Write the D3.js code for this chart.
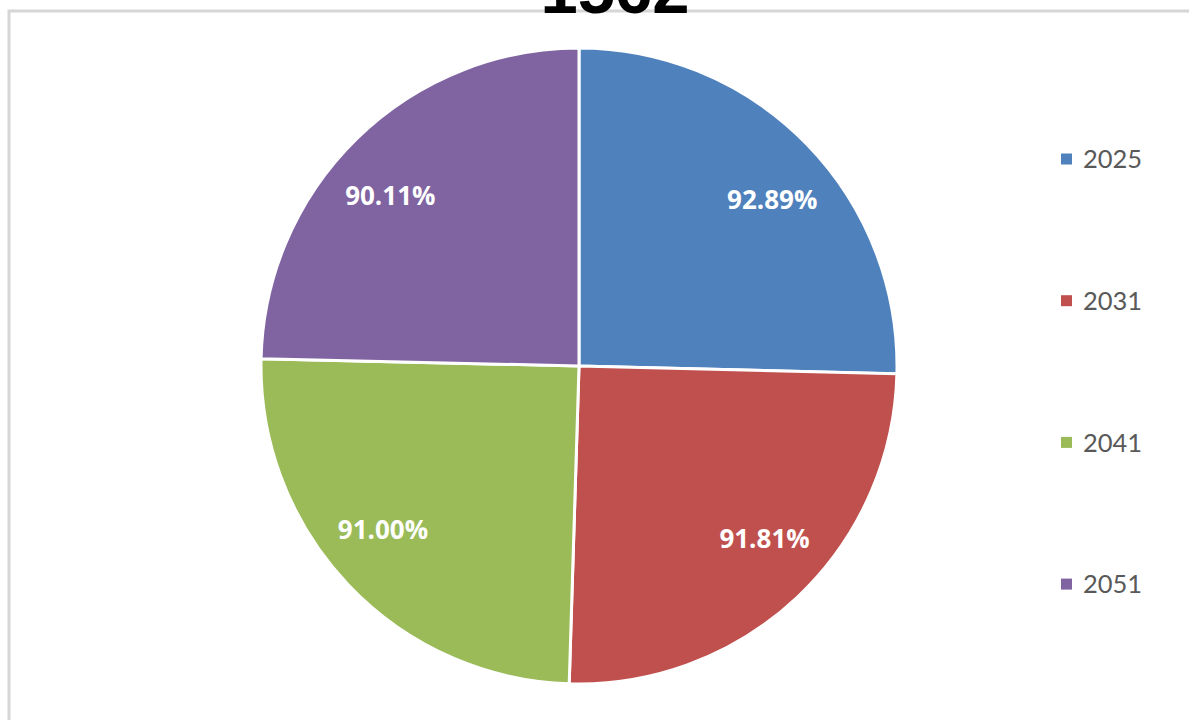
<!DOCTYPE html>
<html>
<head>
<meta charset="utf-8">
<script src="https://cdn.jsdelivr.net/npm/d3@7"></script>
<style>
  body { margin: 0; background: #fff; }
</style>
</head>
<body>
<svg id="chart" width="1189" height="720"></svg>
<script>
const title = '1562';
const years = ['2025', '2031', '2041', '2051'];
const shares = [92.89, 91.81, 91.00, 90.11];
const colours = ['#4f81bd', '#c0504d', '#9bbb59', '#8064a2'];

const svg = d3.select('#chart'),
    width = +svg.attr('width'),
    height = +svg.attr('height'),
    cx = 579, cy = 366, radius = 318;

// chart frame, only top and left edges show
svg.append('path')
    .attr('d', `M9,${height} V11 H${width}`)
    .attr('fill', 'none')
    .attr('stroke', '#d6d6d6')
    .attr('stroke-width', 3);

// title sits mostly above the top edge of the page
svg.append('text')
    .attr('x', 615)
    .attr('y', 13)
    .attr('text-anchor', 'middle')
    .attr('font-family', 'Liberation Sans, Arial, sans-serif')
    .attr('font-weight', 'bold')
    .attr('font-size', 67)
    .attr('fill', '#000')
    .text(title);

const data = years.map((y, i) => ({ year: y, value: shares[i] }));
const colour = d3.scaleOrdinal().domain(years).range(colours);

const pie = d3.pie().sort(null).value(d => d.value);
const arc = d3.arc().innerRadius(0).outerRadius(radius);

const g = svg.append('g').attr('transform', `translate(${cx},${cy})`);

g.selectAll('path')
    .data(pie(data))
    .enter()
    .append('path')
    .attr('d', arc)
    .attr('fill', d => colour(d.data.year))
    .attr('stroke', '#fff')
    .attr('stroke-width', 3);

// labels sit a bit wider than tall, like the original
function labelPos(d) {
    const a = (d.startAngle + d.endAngle) / 2;
    return [Math.sin(a) * 270, -Math.cos(a) * 238];
}

g.selectAll('text')
    .data(pie(data))
    .enter()
    .append('text')
    .attr('transform', d => `translate(${labelPos(d)})`)
    .attr('text-anchor', 'middle')
    .attr('dy', '0.36em')
    .attr('font-family', 'Open Sans, sans-serif')
    .attr('font-weight', 'bold')
    .attr('font-size', 26)
    .attr('fill', '#fff')
    .text(d => d3.format('.2f')(d.data.value) + '%');

const legend = svg.append('g')
    .selectAll('g')
    .data(years)
    .enter()
    .append('g')
    .attr('transform', (d, i) => `translate(1061, ${159 + i * 141.7})`);

legend.append('rect')
    .attr('x', 0)
    .attr('y', -5.5)
    .attr('width', 11)
    .attr('height', 11)
    .attr('fill', d => colour(d));

legend.append('text')
    .attr('x', 22)
    .attr('dy', '0.36em')
    .attr('font-family', 'Lato, sans-serif')
    .attr('font-size', 25.5)
    .attr('fill', '#595959')
    .text(d => d);
</script>
</body>
</html>
